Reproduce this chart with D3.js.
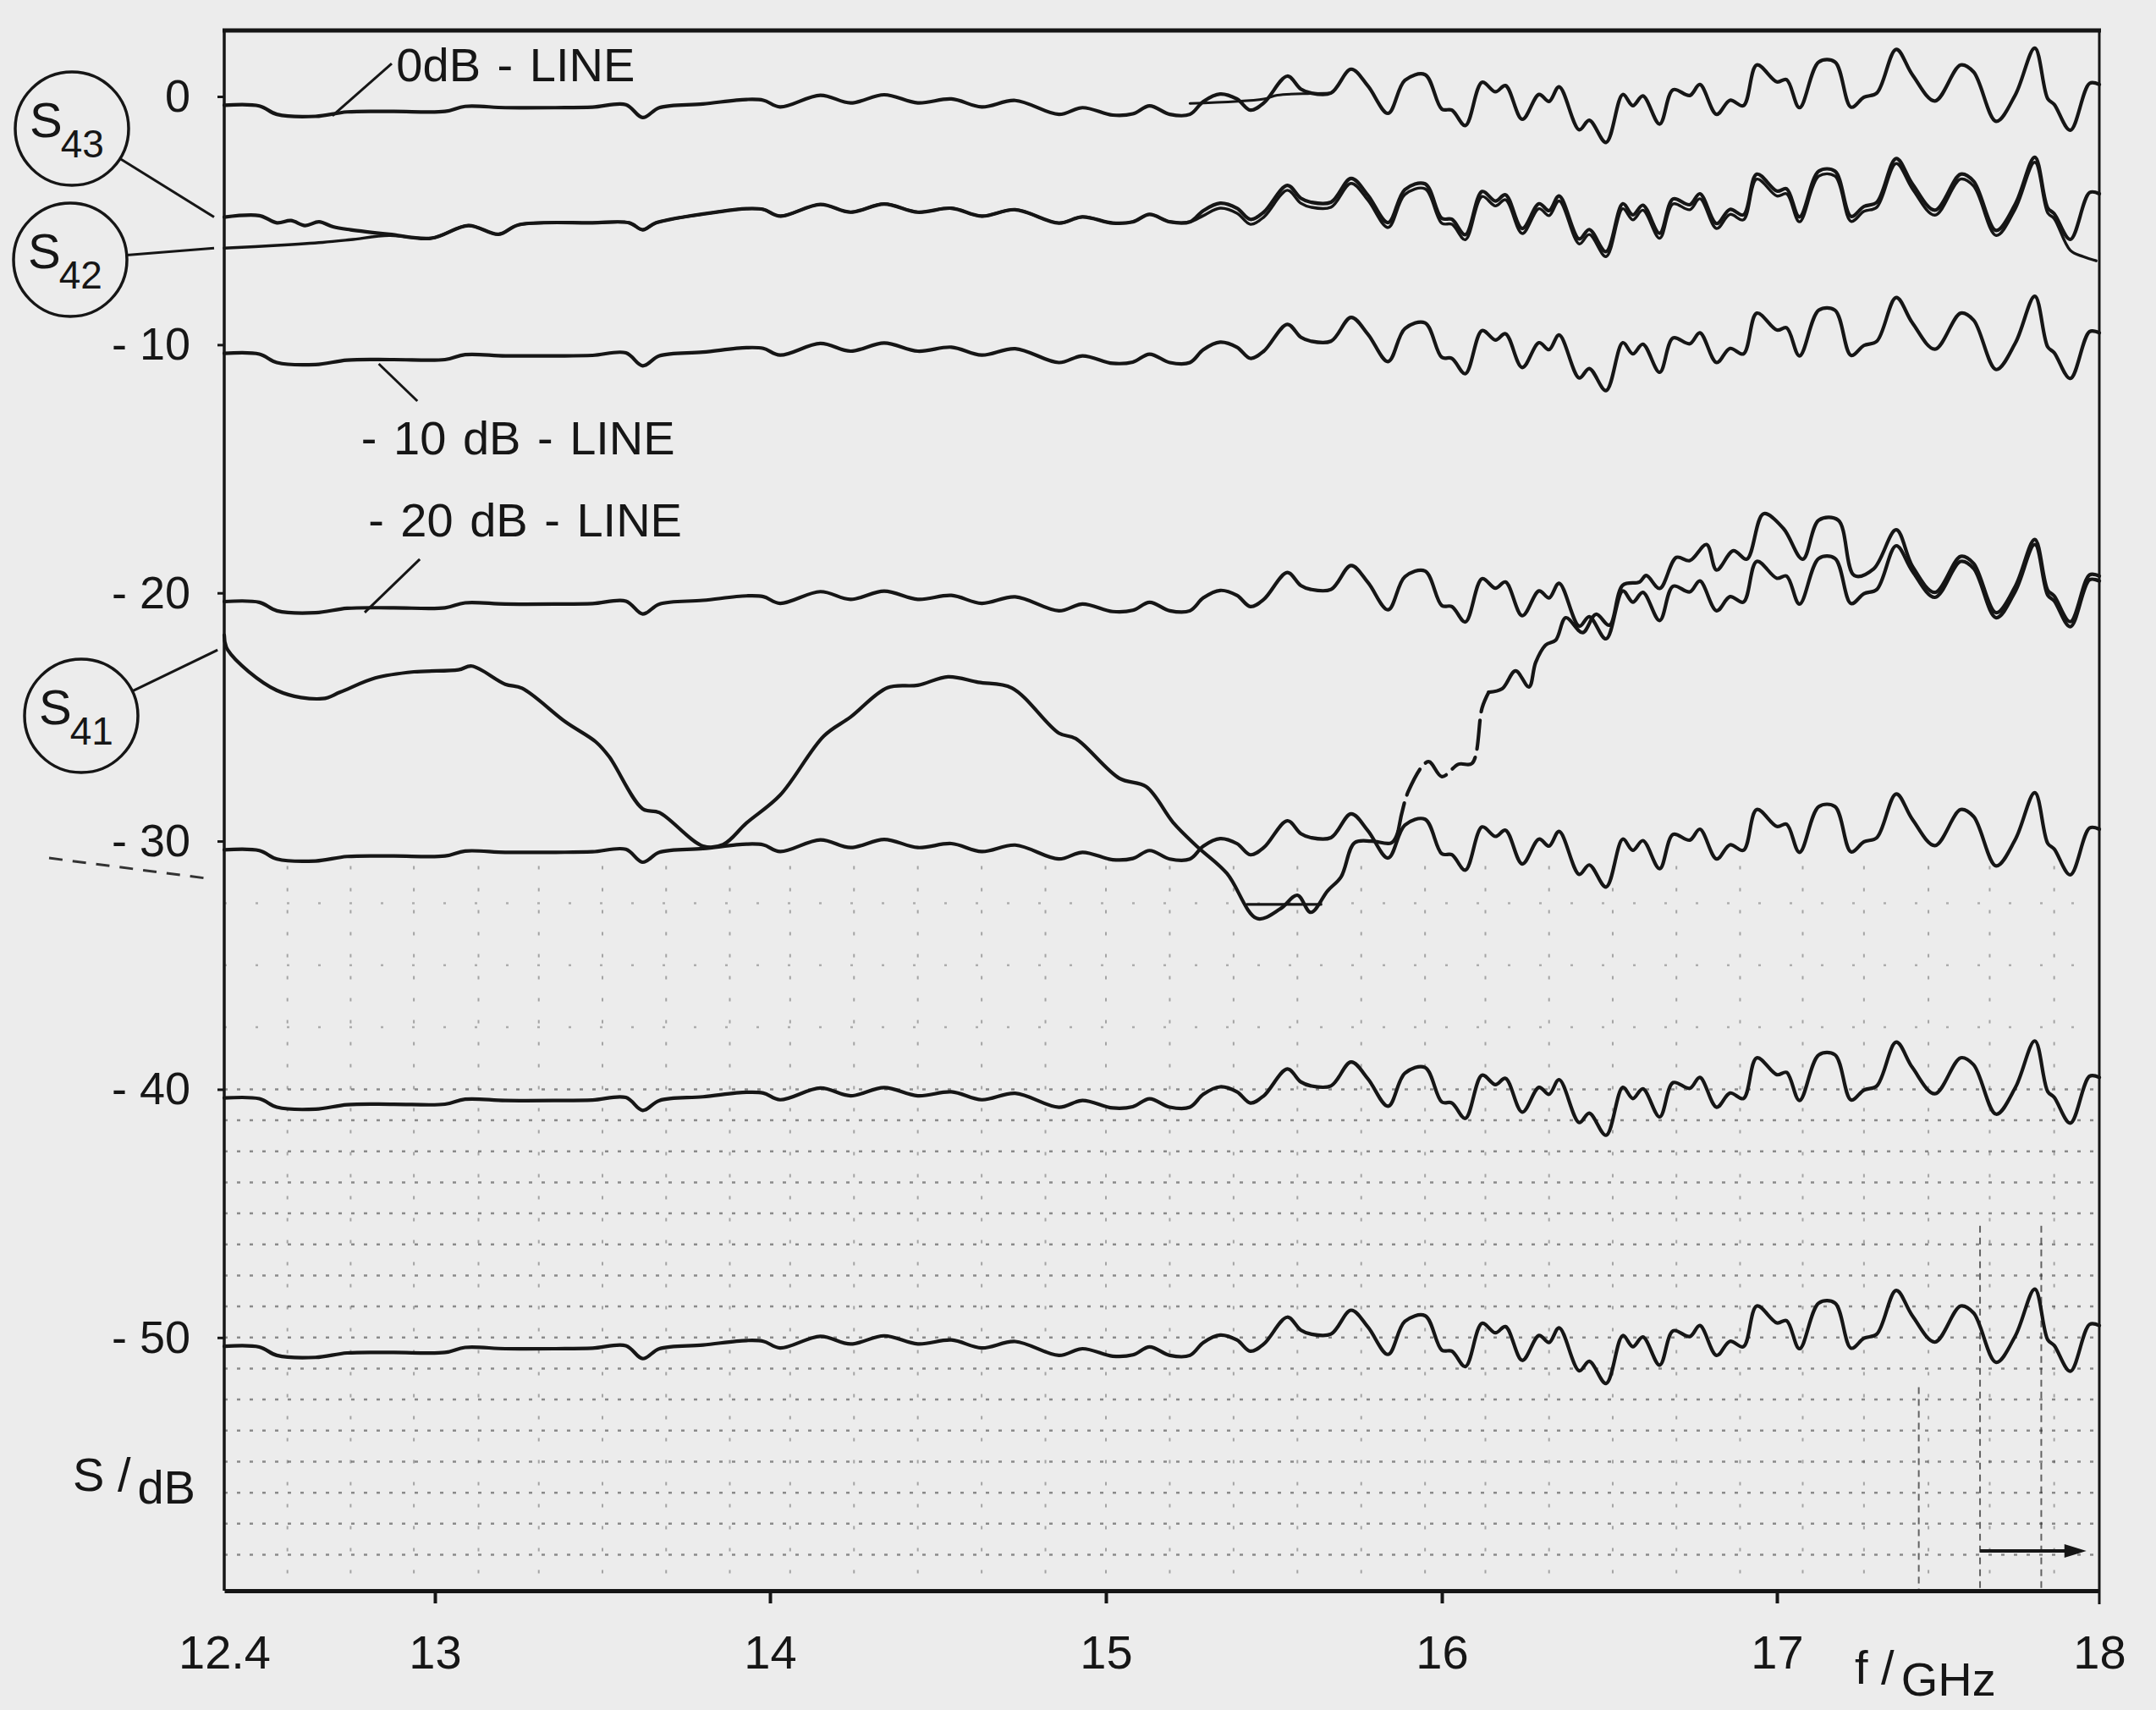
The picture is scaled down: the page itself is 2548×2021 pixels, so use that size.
<!DOCTYPE html>
<html>
<head>
<meta charset="utf-8">
<script src="https://cdn.jsdelivr.net/npm/d3@7"></script>
<style>
  html, body { margin: 0; padding: 0; background: #ececec; }
  svg { display: block; }
  text { font-family: "Liberation Sans", Arial, sans-serif; fill: #161616; }
</style>
</head>
<body>
<div id="chart"></div>
<script>
// axis ticks
const xTicks = [12.4, 13, 14, 15, 16, 17, 18];          // f / GHz
const yTicks = [0, -10, -20, -30, -40, -50];             // S / dB

// calibration sweeps plotted at these nominal levels
const refLevels = [0, -10, -20, -30, -40, -50];

// ripple of the calibration sweep, dB around its nominal level
const sweepF = [12.40, 12.50, 12.55, 12.66, 12.75, 12.88, 13.03, 13.09, 13.21, 13.36,
    13.47, 13.57, 13.62, 13.67, 13.80, 13.93, 13.98, 14.03, 14.15, 14.24,
    14.34, 14.44, 14.54, 14.63, 14.73, 14.86, 14.93, 15.02, 15.08, 15.13,
    15.19, 15.25, 15.29, 15.34, 15.39, 15.43, 15.47, 15.54, 15.58, 15.61,
    15.67, 15.73, 15.78, 15.84, 15.89, 15.95, 16.00, 16.03, 16.07, 16.12,
    16.16, 16.19, 16.24, 16.29, 16.32, 16.35, 16.41, 16.44, 16.49, 16.54,
    16.57, 16.60, 16.65, 16.69, 16.74, 16.77, 16.82, 16.86, 16.90, 16.94,
    17.00, 17.03, 17.07, 17.13, 17.18, 17.23, 17.27, 17.31, 17.37, 17.42,
    17.49, 17.57, 17.61, 17.68, 17.74, 17.80, 17.84, 17.86, 17.91, 17.97,
    18.00];
const sweepDb = [-0.35, -0.38, -0.72, -0.80, -0.62, -0.60, -0.60, -0.40, -0.45, -0.45,
    -0.43, -0.33, -0.85, -0.45, -0.30, -0.12, -0.15, -0.42, 0.05, -0.26,
    0.07, -0.26, -0.10, -0.42, -0.16, -0.72, -0.45, -0.75, -0.70, -0.38,
    -0.72, -0.72, -0.20, 0.10, -0.10, -0.55, -0.26, 0.82, 0.30, 0.14,
    0.14, 1.10, 0.42, -0.68, 0.65, 0.88, -0.51, -0.55, -1.17, 0.57,
    0.19, 0.44, -0.92, 0.08, -0.20, 0.39, -1.34, -0.96, -1.85, 0.08,
    -0.37, 0.02, -1.11, 0.27, 0.04, 0.48, -0.72, -0.15, -0.37, 1.27,
    0.59, 0.68, -0.45, 1.39, 1.39, -0.43, -0.03, 0.14, 1.90, 0.88,
    -0.18, 1.27, 0.99, -1.00, 0.08, 1.95, -0.09, -0.32, -1.36, 0.53,
    0.48];

// second pen pass on the 0 dB line
const zeroOverlay = [[15.25, -0.28], [15.47, -0.10], [15.51, 0.05], [15.61, 0.12], [15.67, 0.14]];

// S43 / S42: separate at the start, one trace in the flat part, then follow the sweep
const s43Head = [[12.40, -4.86], [12.50, -4.80], [12.55, -5.09], [12.59, -5.00], [12.63, -5.20],
    [12.67, -5.05], [12.71, -5.25], [12.76, -5.37], [12.87, -5.55]];
const s42Head = [[12.40, -6.11], [12.55, -6.00], [12.68, -5.88], [12.76, -5.77], [12.87, -5.60]];
const s4xBody = [[12.99, -5.71], [13.10, -5.20], [13.19, -5.55], [13.25, -5.17], [13.47, -5.09],
    [13.58, -5.09], [13.62, -5.37], [13.66, -5.09], [13.85, -4.64], [13.93, -4.52],
    [13.98, -4.55], [14.03, -4.82], [14.15, -4.35], [14.24, -4.66], [14.34, -4.33],
    [14.44, -4.66], [14.54, -4.50], [14.63, -4.82], [14.73, -4.56], [14.86, -5.10],
    [14.93, -4.85], [15.02, -5.10], [15.08, -5.05], [15.13, -4.75], [15.19, -5.05],
    [15.25, -5.05]];
const s43Level = -4.4;
const s42Level = -4.6;
const s42Tail = [[17.91, -6.20], [17.95, -6.45], [17.99, -6.62]];

// S41
const s41 = [[12.40, -21.7], [12.41, -22.3], [12.55, -23.93], [12.68, -24.26], [12.73, -24.0],
    [12.83, -23.43], [12.94, -23.18], [13.07, -23.1], [13.11, -22.95], [13.21, -23.68],
    [13.26, -23.84], [13.39, -25.2], [13.48, -26.0], [13.52, -26.6], [13.62, -28.7],
    [13.67, -28.85], [13.80, -30.2], [13.86, -30.14], [13.93, -29.27], [14.03, -28.15],
    [14.16, -25.77], [14.24, -25.0], [14.35, -23.82], [14.44, -23.72], [14.53, -23.38],
    [14.62, -23.6], [14.72, -23.83], [14.86, -25.65], [14.91, -25.87], [15.04, -27.47],
    [15.12, -27.81], [15.20, -29.25], [15.27, -30.2], [15.36, -31.3], [15.45, -33.12],
    [15.52, -32.72], [15.57, -32.18], [15.61, -32.87], [15.66, -32.0], [15.70, -31.44],
    [15.74, -30.07], [15.79, -30.0], [15.85, -30.07], [15.87, -29.6], [15.90, -28.0],
    [15.96, -26.8], [16.00, -27.4], [16.05, -26.9], [16.09, -26.87], [16.12, -24.64],
    [16.14, -24.0], [16.18, -23.86], [16.22, -23.14], [16.26, -23.79], [16.28, -22.8],
    [16.31, -22.1], [16.34, -21.9], [16.37, -21.0], [16.42, -21.6], [16.46, -20.86],
    [16.50, -21.3], [16.54, -19.69], [16.59, -19.56], [16.61, -19.3], [16.65, -19.82],
    [16.70, -18.57], [16.74, -18.7], [16.79, -18.05], [16.82, -19.08], [16.87, -18.3],
    [16.91, -18.64], [16.96, -16.81], [17.02, -17.4], [17.08, -18.64], [17.13, -17.07],
    [17.19, -17.07], [17.24, -19.3], [17.30, -19.03], [17.37, -17.46], [17.42, -18.92],
    [17.49, -19.98], [17.57, -18.53], [17.61, -18.81], [17.68, -20.8], [17.74, -19.72],
    [17.80, -17.85], [17.84, -19.89], [17.86, -20.12], [17.91, -21.16], [17.97, -19.27],
    [18.00, -19.32]];
const s41Dashed = [15.87, 16.14];                       // pen skipping between these
const s41Flat = [[15.42, -32.55], [15.64, -32.55]];

// plotter paper grid
const gridRowsDb = [-32.5, -35, -37.5, -40, -41.25, -42.5, -43.75, -45, -46.25, -47.5, -48.75,
    -50, -51.25, -52.5, -53.75, -55, -56.25, -57.5, -58.75];
const gridColsF = [12.58, 12.76, 12.94, 13.13, 13.31, 13.50, 13.69, 13.88, 14.06, 14.25,
    14.44, 14.63, 14.82, 15.00, 15.19, 15.38, 15.57, 15.76, 15.95, 16.13,
    16.32, 16.51, 16.70, 16.89, 17.08, 17.27, 17.47, 17.66, 17.86];
const markerF = [17.44, 17.63, 17.82];
const markerTopDb = [-52, -45.5, -45.5];
const arrowF = [17.63, 17.96];
const arrowDb = -58.6;

// ---------------------------------------------------------------
const width = 2548, height = 2021;
const plot = { left: 265, right: 2481, top: 36, bottom: 1880 };
const INK = '#161616';

const svg = d3.select('#chart').append('svg')
    .attr('width', width)
    .attr('height', height);

svg.append('rect').attr('width', width).attr('height', height).attr('fill', '#ececec');

// the scanned frequency axis is slightly uneven, so map through every labelled tick
const x = d3.scaleLinear()
    .domain(xTicks)
    .range([plot.left, 514, 910, 1307, 1704, 2100, plot.right]);

const y = d3.scaleLinear()
    .domain([-60.2, 2.66])
    .range([plot.bottom, plot.top]);

const line = d3.line()
    .x(d => x(d[0]))
    .y(d => y(d[1]))
    .curve(d3.curveCatmullRom.alpha(0.5));

// grid dots
const grid = svg.append('g').attr('class', 'grid');
grid.selectAll('.row').data(gridRowsDb).join('line')
    .attr('class', 'row')
    .attr('x1', plot.left).attr('x2', plot.right)
    .attr('y1', d => y(d)).attr('y2', d => y(d))
    .attr('stroke', '#3a3a3a')
    .attr('stroke-width', 2.5)
    .attr('stroke-opacity', d => d > -40 ? 0.35 : 0.55)
    .attr('stroke-dasharray', d => d > -40 ? '3 34' : '4 11');

grid.selectAll('.col').data(gridColsF).join('line')
    .attr('class', 'col')
    .attr('x1', d => x(d)).attr('x2', d => x(d))
    .attr('y1', y(-31)).attr('y2', plot.bottom)
    .attr('stroke', '#3a3a3a')
    .attr('stroke-width', 2)
    .attr('stroke-opacity', 0.4)
    .attr('stroke-dasharray', '4 22');

grid.selectAll('.marker').data(markerF).join('line')
    .attr('class', 'marker')
    .attr('x1', d => x(d)).attr('x2', d => x(d))
    .attr('y1', (d, i) => y(markerTopDb[i])).attr('y2', plot.bottom)
    .attr('stroke', '#2a2a2a')
    .attr('stroke-width', 2)
    .attr('stroke-opacity', 0.7)
    .attr('stroke-dasharray', '8 6');

// arrow at lower right
svg.append('line')
    .attr('x1', x(arrowF[0])).attr('x2', x(arrowF[1]) - 14)
    .attr('y1', y(arrowDb)).attr('y2', y(arrowDb))
    .attr('stroke', INK).attr('stroke-width', 4);
svg.append('path')
    .attr('d', `M${x(arrowF[1])},${y(arrowDb)} l-26,-8 l0,16 z`)
    .attr('fill', INK);

// traces
const traces = svg.append('g').attr('class', 'traces')
    .attr('fill', 'none')
    .attr('stroke', INK)
    .attr('stroke-width', 4.2)
    .attr('stroke-linejoin', 'round')
    .attr('stroke-linecap', 'round');

const sweepAt = (level, from, to) => sweepF
    .map((f, i) => [f, level + sweepDb[i]])
    .filter(d => d[0] > from && d[0] <= to);

refLevels.forEach(level => {
    traces.append('path').attr('class', 'ref-line').attr('d', line(sweepAt(level, 0, 99)));
});
traces.append('path').attr('d', line(zeroOverlay)).attr('stroke-width', 3);

const s43 = s43Head.concat(s4xBody, sweepAt(s43Level, 15.25, 18));
const s42 = s42Head.concat(s4xBody, sweepAt(s42Level, 15.25, 17.87), s42Tail);
traces.append('path').attr('class', 's43').attr('d', line(s43));
traces.append('path').attr('class', 's42').attr('d', line(s42)).attr('stroke-width', 3.4);

traces.append('path').attr('class', 's41')
    .attr('d', line(s41.filter(d => d[0] <= s41Dashed[0])));
traces.append('path').attr('class', 's41')
    .attr('d', line(s41.filter(d => d[0] >= s41Dashed[0] && d[0] <= s41Dashed[1])))
    .attr('stroke-dasharray', '34 10');
traces.append('path').attr('class', 's41')
    .attr('d', line(s41.filter(d => d[0] >= s41Dashed[1])));
traces.append('path').attr('d', d3.line().x(d => x(d[0])).y(d => y(d[1]))(s41Flat))
    .attr('stroke-width', 3.4);

// frame
const frame = svg.append('g').attr('stroke', INK).attr('fill', 'none');
frame.append('line').attr('x1', plot.left - 2).attr('x2', plot.right + 2)
    .attr('y1', plot.top).attr('y2', plot.top).attr('stroke-width', 5);
frame.append('line').attr('x1', plot.right).attr('x2', plot.right)
    .attr('y1', plot.top).attr('y2', plot.bottom + 16).attr('stroke-width', 3);

// axes
const xAxis = svg.append('g')
    .attr('transform', `translate(0,${plot.bottom})`)
    .call(d3.axisBottom(x)
        .tickValues(xTicks)
        .tickSizeInner(15)
        .tickSizeOuter(0)
        .tickPadding(37)
        .tickFormat(d => d));
xAxis.select('.domain').attr('stroke', INK).attr('stroke-width', 5);
xAxis.selectAll('.tick line').attr('stroke', INK).attr('stroke-width', 4)
    .attr('display', d => d === 12.4 || d === 18 ? 'none' : null);
xAxis.selectAll('.tick text')
    .style('font-size', '56px')
    .style('font-family', '"Liberation Sans", Arial, sans-serif')
    .attr('fill', INK);

const yAxis = svg.append('g')
    .attr('transform', `translate(${plot.left},0)`)
    .call(d3.axisLeft(y)
        .tickValues(yTicks)
        .tickSizeInner(8)
        .tickSizeOuter(0)
        .tickPadding(32)
        .tickFormat(d => d === 0 ? '0' : '- ' + Math.abs(d)));
yAxis.select('.domain').attr('stroke', INK).attr('stroke-width', 3.5)
    .attr('d', `M0,${plot.top}V${plot.bottom}`);
yAxis.selectAll('.tick line').attr('stroke', INK).attr('stroke-width', 3);
yAxis.selectAll('.tick text')
    .style('font-size', '54px')
    .style('font-family', '"Liberation Sans", Arial, sans-serif')
    .attr('fill', INK);

// axis titles
const yTitle = svg.append('text')
    .attr('x', 86).attr('y', 1762)
    .style('font-size', '56px');
yTitle.append('tspan').text('S /');
yTitle.append('tspan').attr('dx', 8).attr('dy', 15).text('dB');

const xTitle = svg.append('text')
    .attr('x', 2192).attr('y', 1990)
    .style('font-size', '56px');
xTitle.append('tspan').text('f /');
xTitle.append('tspan').attr('dx', 8).attr('dy', 14).text('GHz');

// reference line labels with leaders
const notes = [
    { text: '0dB - LINE', at: [12.89, 0.6], from: [12.877, 1.33], to: [12.708, -0.78] },
    { text: '- 10 dB - LINE', at: [12.79, -14.42], from: [12.84, -10.77], to: [12.95, -12.27] },
    { text: '- 20 dB - LINE', at: [12.81, -17.72], from: [12.957, -18.64], to: [12.80, -20.79] }
];
notes.forEach(n => {
    svg.append('line')
        .attr('x1', x(n.from[0])).attr('y1', y(n.from[1]))
        .attr('x2', x(n.to[0])).attr('y2', y(n.to[1]))
        .attr('stroke', INK).attr('stroke-width', 3);
    svg.append('text')
        .attr('x', x(n.at[0])).attr('y', y(n.at[1]))
        .style('font-size', '56px')
        .style('word-spacing', '4px')
        .text(n.text);
});

// circled S-parameter names, leader to the start of each trace
const circles = [
    { name: 'S', sub: '43', cx: 85, cy: 152, target: s43Head[0] },
    { name: 'S', sub: '42', cx: 83, cy: 307, target: s42Head[0] },
    { name: 'S', sub: '41', cx: 96, cy: 846, target: s41[1] }
];
const r = 67;
circles.forEach(c => {
    const tx = x(c.target[0]) - 12, ty = y(c.target[1]);
    const dx = tx - c.cx, dy = ty - c.cy, len = Math.hypot(dx, dy);
    svg.append('line')
        .attr('x1', c.cx + r * dx / len).attr('y1', c.cy + r * dy / len)
        .attr('x2', tx).attr('y2', ty)
        .attr('stroke', INK).attr('stroke-width', 3);
    svg.append('circle')
        .attr('cx', c.cx).attr('cy', c.cy).attr('r', r)
        .attr('fill', 'none').attr('stroke', INK).attr('stroke-width', 3.5);
    const t = svg.append('text')
        .attr('x', c.cx - 50).attr('y', c.cy + 10)
        .style('font-size', '58px');
    t.append('tspan').text(c.name);
    t.append('tspan').attr('dx', -2).attr('dy', 24).style('font-size', '46px').text(c.sub);
});

// stray pen stroke left of the -30 label
svg.append('line')
    .attr('x1', 58).attr('y1', y(-30) + 20)
    .attr('x2', 244).attr('y2', y(-30) + 44)
    .attr('stroke', '#333').attr('stroke-width', 3)
    .attr('stroke-dasharray', '16 12');
</script>
</body>
</html>
